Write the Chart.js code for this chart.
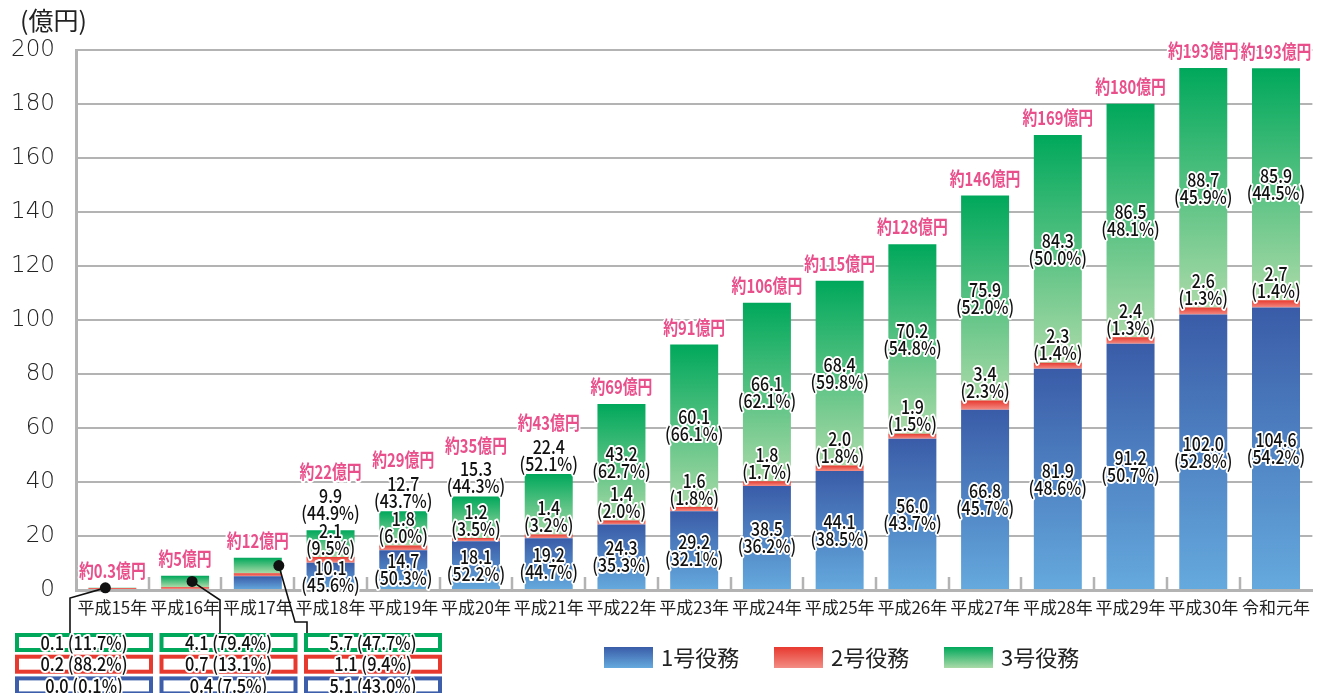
<!DOCTYPE html>
<html lang="ja">
<head>
<meta charset="utf-8">
<title>役務別 売上の推移</title>
<script src="https://cdn.jsdelivr.net/npm/chart.js@4/dist/chart.umd.min.js"></script>
<style>
  html, body { margin: 0; padding: 0; background: #fff; }
  #wrap { width: 1317px; height: 693px; position: relative; }
</style>
</head>
<body>
<div id="wrap"><canvas id="serviceChart"></canvas></div>
<script>
// 年度
const categories = ['平成15年', '平成16年', '平成17年', '平成18年', '平成19年', '平成20年', '平成21年',
    '平成22年', '平成23年', '平成24年', '平成25年', '平成26年', '平成27年', '平成28年', '平成29年', '平成30年', '令和元年'];

// 各役務の金額 (億円)
const service1 = [0.0, 0.4, 5.1, 10.1, 14.7, 18.1, 19.2, 24.3, 29.2, 38.5, 44.1, 56.0, 66.8, 81.9, 91.2, 102.0, 104.6];
const service2 = [0.2, 0.7, 1.1, 2.1, 1.8, 1.2, 1.4, 1.4, 1.6, 1.8, 2.0, 1.9, 3.4, 2.3, 2.4, 2.6, 2.7];
const service3 = [0.1, 4.1, 5.7, 9.9, 12.7, 15.3, 22.4, 43.2, 60.1, 66.1, 68.4, 70.2, 75.9, 84.3, 86.5, 88.7, 85.9];

// 構成比 (%)
const share1 = ['0.1', '7.5', '43.0', '45.6', '50.3', '52.2', '44.7', '35.3', '32.1', '36.2', '38.5', '43.7', '45.7', '48.6', '50.7', '52.8', '54.2'];
const share2 = ['88.2', '13.1', '9.4', '9.5', '6.0', '3.5', '3.2', '2.0', '1.8', '1.7', '1.8', '1.5', '2.3', '1.4', '1.3', '1.3', '1.4'];
const share3 = ['11.7', '79.4', '47.7', '44.9', '43.7', '44.3', '52.1', '62.7', '66.1', '62.1', '59.8', '54.8', '52.0', '50.0', '48.1', '45.9', '44.5'];

// 合計 (約○億円)
const totalLabels = ['0.3', '5', '12', '22', '29', '35', '43', '69', '91', '106', '115', '128', '146', '169', '180', '193', '193'];

const seriesNames = ['1号役務', '2号役務', '3号役務'];
const yTicks = [0, 20, 40, 60, 80, 100, 120, 140, 160, 180, 200];

const FONT = '"Noto Sans CJK JP", "Noto Sans", sans-serif';
const GRID = '#b3b3b3';
const fills = [
    ['#3a5ca8', '#65aade'],
    ['#e8392f', '#f28d85'],
    ['#00a85b', '#abdaa8']
];
const PINK = '#e9508b';

// 各セグメントの上端→下端の縦グラデーション
function segmentFill(dsIndex) {
    return function(ctx) {
        const chart = ctx.chart;
        const y = chart.scales.y;
        const [topC, botC] = fills[dsIndex];
        if (!y || ctx.type !== 'data') return topC;
        const i = ctx.dataIndex;
        let start = 0;
        for (let d = 0; d < dsIndex; d++) start += chart.data.datasets[d].data[i];
        const end = start + chart.data.datasets[dsIndex].data[i];
        let y0 = y.getPixelForValue(start);
        let y1 = y.getPixelForValue(end);
        if (!isFinite(y0) || !isFinite(y1)) return topC;
        if (y0 - y1 < 3) y1 = y0 - 3;
        const g = chart.ctx.createLinearGradient(0, y1, 0, y0);
        g.addColorStop(0, topC);
        g.addColorStop(1, botC);
        return g;
    };
}

function haloText(c, text, x, y, font, color, sx, halo) {
    c.save();
    c.translate(x, y);
    c.scale(sx, 1);
    c.font = font;
    c.textAlign = 'center';
    c.textBaseline = 'middle';
    c.lineJoin = 'round';
    c.lineWidth = halo || 4;
    c.strokeStyle = '#fff';
    c.strokeText(text, 0, 0);
    c.fillStyle = color;
    c.fillText(text, 0, 0);
    c.restore();
}

const LABEL_FONT = '500 19px ' + FONT;
const TOTAL_FONT = 'bold 19px ' + FONT;

function twoLine(c, value, pct, x, cy) {
    haloText(c, value, x, cy - 8.5, LABEL_FONT, '#111', 0.84);
    haloText(c, '(' + pct + '%)', x, cy + 8.5, LABEL_FONT, '#111', 0.84);
}

const labelPlugin = {
    id: 'segmentLabels',
    afterDraw(chart) {
        const c = chart.ctx;
        const area = chart.chartArea;
        const xs = chart.scales.x;
        const m1 = chart.getDatasetMeta(0).data;
        const m2 = chart.getDatasetMeta(1).data;
        const m3 = chart.getDatasetMeta(2).data;
        const step = xs.width / categories.length;

        // 区切りの目盛り
        c.save();
        c.strokeStyle = GRID;
        c.lineWidth = 2.5;
        for (let i = 1; i < categories.length; i++) {
            const bx = Math.round(area.left + step * i);
            c.beginPath();
            c.moveTo(bx, area.bottom - 13);
            c.lineTo(bx, area.bottom);
            c.stroke();
        }
        c.restore();

        // 単位
        c.save();
        c.font = '400 25px ' + FONT;
        c.fillStyle = '#222';
        c.textBaseline = 'middle';
        c.fillText('(億円)', 20, 20);
        c.restore();

        const callouts = [];
        categories.forEach((cat, i) => {
            const b1 = m1[i], b2 = m2[i], b3 = m3[i];
            const x = b1.x;
            const top = b3.y;
            const total = service1[i] + service2[i] + service3[i];

            if (total < 15) {
                haloText(c, '約' + totalLabels[i] + '億円', x, top - 17, TOTAL_FONT, PINK, 0.78, 4);
                callouts.push({ i, x, dotY: (b3.y + b3.base) / 2 });
                return;
            }
            // 1号役務
            twoLine(c, service1[i].toFixed(1), share1[i], x, (b1.y + b1.base) / 2);
            // 2号役務
            const redLabel = b2.y - 18;
            twoLine(c, service2[i].toFixed(1), share2[i], x, redLabel);
            // 3号役務
            let totalY;
            if (service3[i] < 30) {
                const gy = Math.min(top - 19, redLabel - 35);
                twoLine(c, service3[i].toFixed(1), share3[i], x, gy);
                totalY = gy - 32;
            } else {
                twoLine(c, service3[i].toFixed(1), share3[i], x, (b3.y + b3.base) / 2);
                totalY = top - 17;
            }
            haloText(c, '約' + totalLabels[i] + '億円', x, totalY, TOTAL_FONT, PINK, 0.78, 4);
        });

        // 小さい年度は枠付きの吹き出しで表示
        const boxW = 138, boxH = 19, rowGap = 21.7, firstRow = 633;
        const rows = [
            { color: '#00a85b', vals: service3, pcts: share3 },
            { color: '#e8392f', vals: service2, pcts: share2 },
            { color: '#3d5fab', vals: service1, pcts: share1 }
        ];
        const leaders = [
            { dx: -7, mid: [70, 598], foot: 70 },
            { dx: 7, mid: [220, 600], foot: 220 },
            { dx: 21, mid: [295, 622], foot: 307, bend: true }
        ];
        callouts.forEach((co, k) => {
            const left = 15 + k * 144.5;
            rows.forEach((r, j) => {
                const by = firstRow + j * rowGap;
                c.save();
                c.fillStyle = '#fff';
                c.fillRect(left, by, boxW, boxH);
                c.strokeStyle = r.color;
                c.lineWidth = 4;
                c.strokeRect(left + 2, by + 2, boxW - 4, boxH - 4);
                c.restore();
                haloText(c, r.vals[co.i].toFixed(1) + ' (' + r.pcts[co.i] + '%)',
                    left + boxW / 2, by + boxH / 2, '500 19px ' + FONT, '#111', 0.86, 4);
            });
            const ld = leaders[k];
            const dx = co.x + ld.dx;
            const dy = co.dotY;
            c.save();
            c.strokeStyle = '#111';
            c.lineWidth = 1.6;
            c.beginPath();
            c.moveTo(dx, dy);
            c.lineTo(ld.mid[0], ld.mid[1]);
            if (ld.bend) c.lineTo(ld.foot, ld.mid[1]);
            c.lineTo(ld.foot, firstRow);
            c.stroke();
            c.fillStyle = '#111';
            c.beginPath();
            c.arc(dx, dy, 5.5, 0, Math.PI * 2);
            c.fill();
            c.restore();
        });

        // 凡例
        const legendX = [604, 774, 944];
        seriesNames.forEach((name, k) => {
            const lx = legendX[k], ly = 647;
            const g = c.createLinearGradient(0, ly, 0, ly + 21);
            g.addColorStop(0, fills[k][0]);
            g.addColorStop(1, fills[k][1]);
            c.save();
            c.fillStyle = g;
            c.fillRect(lx, ly, 49, 21);
            c.font = '400 22px ' + FONT;
            c.fillStyle = '#222';
            c.textBaseline = 'middle';
            c.fillText(name, lx + 57, ly + 11);
            c.restore();
        });
    }
};

const ctx = document.getElementById('serviceChart').getContext('2d');
const serviceChart = new Chart(ctx, {
    type: 'bar',
    data: {
        labels: categories,
        datasets: [
            { label: seriesNames[0], data: service1, backgroundColor: segmentFill(0), borderWidth: 0 },
            { label: seriesNames[1], data: service2, backgroundColor: segmentFill(1), borderWidth: 0, minBarLength: 2 },
            { label: seriesNames[2], data: service3, backgroundColor: segmentFill(2), borderWidth: 0 }
        ]
    },
    options: {
        responsive: true,
        maintainAspectRatio: false,
        animation: false,
        layout: { padding: { top: 50, left: 0, right: 0, bottom: 68 } },
        datasets: { bar: { barPercentage: 0.66, categoryPercentage: 1 } },
        scales: {
            x: {
                stacked: true,
                grid: { display: false, drawTicks: false },
                border: { display: true, color: GRID, width: 3 },
                ticks: { color: '#222', font: { family: FONT, size: 17 }, padding: 7, maxRotation: 0, autoSkip: false },
                afterFit: axis => { axis.height = 35; }
            },
            y: {
                stacked: true,
                min: 0,
                max: 200,
                afterBuildTicks: axis => { axis.ticks = yTicks.map(v => ({ value: v })); },
                afterFit: axis => { axis.width = 76; },
                grid: { color: GRID, lineWidth: 2, drawTicks: false },
                border: { display: true, color: GRID, width: 3 },
                ticks: { color: '#222', font: { family: '"DejaVu Sans", sans-serif', size: 23, weight: 200 }, padding: 21 }
            }
        },
        plugins: {
            legend: { display: false },
            tooltip: { enabled: false }
        }
    },
    plugins: [labelPlugin]
});
</script>
</body>
</html>
